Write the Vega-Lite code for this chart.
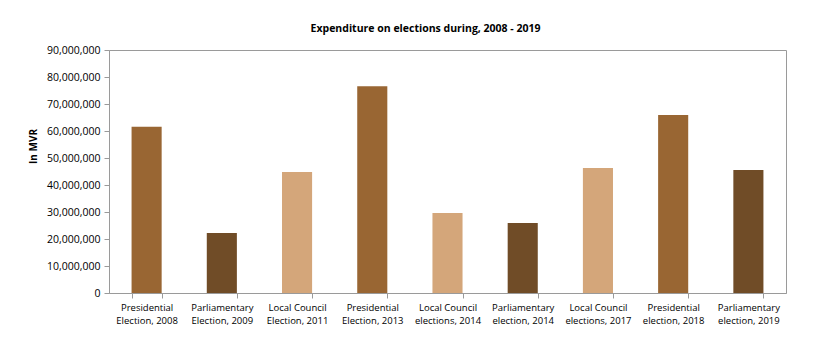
{
  "$schema": "https://vega.github.io/schema/vega-lite/v6.json",
  "width": 677,
  "height": 243,
  "autosize": {"type": "none"},
  "padding": {"left": 109, "top": 50, "right": 33, "bottom": 56},
  "background": "white",
  "title": {
    "text": "Expenditure on elections during, 2008 - 2019",
    "font": "Open Sans",
    "fontSize": 10.5,
    "fontWeight": "bold",
    "color": "#000000",
    "anchor": "middle",
    "dx": -22,
    "baseline": "alphabetic",
    "offset": 3
  },
  "config": {
    "view": {"stroke": "#9a9a9a", "strokeWidth": 1},
    "font": "Open Sans"
  },
  "data": {
    "values": [
      {"election": "Presidential Election, 2008", "type": "Presidential", "amount": 61600000},
      {"election": "Parliamentary Election, 2009", "type": "Parliamentary", "amount": 22200000},
      {"election": "Local Council Election, 2011", "type": "Local Council", "amount": 44800000},
      {"election": "Presidential Election, 2013", "type": "Presidential", "amount": 76600000},
      {"election": "Local Council elections, 2014", "type": "Local Council", "amount": 29600000},
      {"election": "Parliamentary election, 2014", "type": "Parliamentary", "amount": 25900000},
      {"election": "Local Council elections, 2017", "type": "Local Council", "amount": 46300000},
      {"election": "Presidential election, 2018", "type": "Presidential", "amount": 65900000},
      {"election": "Parliamentary election, 2019", "type": "Parliamentary", "amount": 45600000}
    ]
  },
  "mark": {"type": "bar"},
  "encoding": {
    "x": {
      "field": "election",
      "type": "nominal",
      "sort": null,
      "scale": {"paddingInner": 0.6, "paddingOuter": 0.3},
      "axis": {
        "title": null,
        "labelAngle": 0,
        "labelFont": "Open Sans",
        "labelFontSize": 9.5,
        "labelColor": "#000000",
        "labelLineHeight": 13,
        "labelPadding": 4,
        "labelExpr": "[substring(datum.label, 0, indexof(lower(datum.label), ' election')), substring(datum.label, indexof(lower(datum.label), ' election') + 1)]",
        "tickBand": "extent",
        "tickSize": 5,
        "tickColor": "#9a9a9a",
        "domainColor": "#9a9a9a"
      }
    },
    "y": {
      "field": "amount",
      "type": "quantitative",
      "scale": {"domain": [0, 90000000], "nice": false},
      "axis": {
        "title": "In MVR",
        "titleFont": "Open Sans",
        "titleFontSize": 10,
        "titleFontWeight": "bold",
        "titleColor": "#000000",
        "titleX": -71,
        "titleY": 96,
        "values": [0, 10000000, 20000000, 30000000, 40000000, 50000000, 60000000, 70000000, 80000000, 90000000],
        "format": ",d",
        "grid": false,
        "labelFont": "Open Sans",
        "labelFontSize": 10.5,
        "labelColor": "#000000",
        "labelPadding": 4,
        "tickSize": 5,
        "tickColor": "#9a9a9a",
        "domainColor": "#9a9a9a"
      }
    },
    "color": {
      "field": "type",
      "type": "nominal",
      "scale": {
        "domain": ["Presidential", "Parliamentary", "Local Council"],
        "range": ["#996633", "#704C27", "#D4A67A"]
      },
      "legend": null
    }
  }
}
